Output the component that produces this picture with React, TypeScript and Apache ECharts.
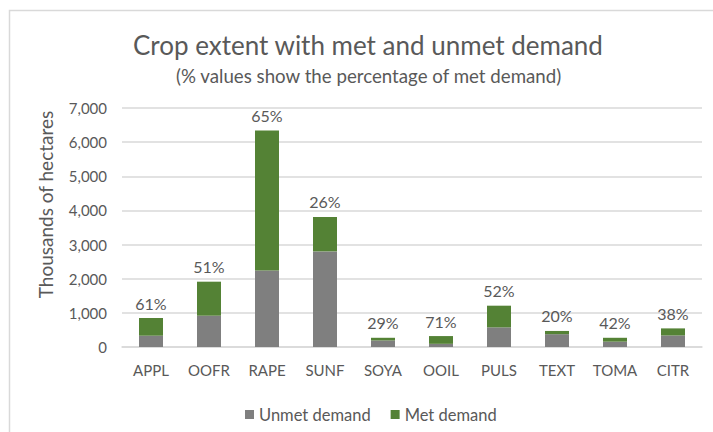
import React, { useEffect, useRef } from "react";
import * as echarts from "echarts";

const categories = ["APPL", "OOFR", "RAPE", "SUNF", "SOYA", "OOIL", "PULS", "TEXT", "TOMA", "CITR"];
const unmetDemand = [331, 917, 2244, 2800, 192, 93, 575, 376, 157, 338];
const metDemand = [518, 996, 4100, 1008, 78, 227, 635, 94, 113, 207];
const metPercent = ["61%", "51%", "65%", "26%", "29%", "71%", "52%", "20%", "42%", "38%"];

const FONT = "Lato, 'Open Sans', sans-serif";
const TXT = "#595959";

export default function App() {
  const ref = useRef<HTMLDivElement>(null);
  useEffect(() => {
    document.body.style.margin = "0";
    const chart = echarts.init(ref.current!, null, { renderer: "svg" });
    chart.setOption({
      animation: false,
      backgroundColor: "#ffffff",
      textStyle: { fontFamily: FONT, color: TXT },
      title: [
        {
          text: "Crop extent with met and unmet demand",
          left: 128,
          top: 27,
          textStyle: { fontFamily: FONT, fontSize: 26, fontWeight: "normal", color: TXT },
        },
        {
          text: "(% values show the percentage of met demand)",
          left: 171,
          top: 61,
          textStyle: { fontFamily: FONT, fontSize: 18.7, fontWeight: "normal", color: TXT },
        },
      ],
      graphic: [
        {
          type: "rect",
          shape: { x: 9.5, y: 10.5, width: 800, height: 500 },
          style: { fill: "none", stroke: "#d9d9d9", lineWidth: 1.5 },
          silent: true,
        },
      ],
      legend: {
        left: 240,
        top: 401,
        icon: "rect",
        itemWidth: 9,
        itemHeight: 9,
        itemGap: 20,
        textStyle: { fontFamily: FONT, fontSize: 16.5, color: TXT },
        data: ["Unmet demand", "Met demand"],
      },
      grid: { left: 122, right: 11, top: 108, bottom: 85, containLabel: false },
      xAxis: {
        type: "category",
        data: categories,
        axisLine: { show: true, lineStyle: { color: "#d9d9d9", width: 1.5 } },
        axisTick: { show: false },
        axisLabel: { fontFamily: FONT, fontSize: 15, color: TXT, margin: 15 },
      },
      yAxis: {
        type: "value",
        min: 0,
        max: 7000,
        interval: 1000,
        name: "Thousands of hectares",
        nameLocation: "middle",
        nameGap: 67,
        nameTextStyle: { fontFamily: FONT, fontSize: 19, color: TXT, padding: [0, 0, 0, 46] },
        axisLine: { show: false },
        axisTick: { show: false },
        axisLabel: {
          fontFamily: FONT,
          fontSize: 15,
          color: TXT,
          margin: 15,
          formatter: (v: number) => v.toLocaleString("en-US"),
        },
        splitLine: { lineStyle: { color: "#d9d9d9", width: 1.5 } },
      },
      series: [
        {
          name: "Unmet demand",
          type: "bar",
          stack: "total",
          data: unmetDemand,
          barWidth: 24,
          itemStyle: { color: "#7f7f7f" },
        },
        {
          name: "Met demand",
          type: "bar",
          stack: "total",
          data: metDemand,
          barWidth: 24,
          itemStyle: { color: "#548235" },
          label: {
            show: true,
            position: "top",
            distance: 7,
            fontFamily: FONT,
            fontSize: 16,
            color: TXT,
            formatter: (p: any) => metPercent[p.dataIndex],
          },
        },
      ],
    });
    return () => chart.dispose();
  }, []);
  return <div ref={ref} style={{ position: "absolute", left: 0, top: 0, width: 713, height: 432 }} />;
}
